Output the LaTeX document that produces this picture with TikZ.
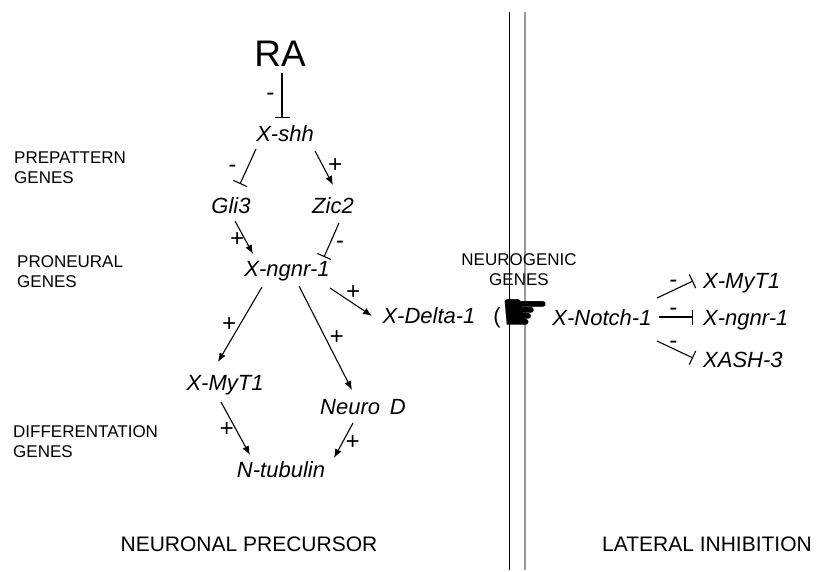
\documentclass[tikz,border=0pt]{standalone}
\usepackage{fontspec}
\setmainfont{Liberation Sans}
\newfontfamily\handfont{DejaVu Sans}
\usetikzlibrary{arrows.meta}
\tikzset{
	gene/.style={font=\itshape\fontsize{22}{26}\selectfont, inner sep=0pt, anchor=base},
	rgene/.style={gene, anchor=base west},
	lbl/.style={font=\itshape\fontsize{24}{24}\selectfont, inner sep=0pt, text height=14pt, text depth=0pt},
	cat/.style={font=\fontsize{17}{20}\selectfont, inner sep=0pt, align=left, anchor=north west},
	title/.style={font=\fontsize{21}{24}\selectfont, inner sep=0pt, anchor=base},
	act/.style={line width=1.1pt, -{Latex[length=9pt,width=7pt]}},
	inh/.style={line width=1.1pt, -{Bar[width=15pt,line width=1.1pt]}}
}
\begin{document}
\begin{tikzpicture}[x=1pt,y=-1pt]
	\useasboundingbox (0,0) rectangle (829,572);
	\draw[line width=1pt] (509,12) -- (509,570);
	\draw[line width=1.3pt, gray!80] (525,12) -- (525,570);

	\node[font=\fontsize{37}{40}\selectfont, inner sep=0pt, anchor=base] (ra) at (280,67) {RA};
	\node[gene] (xshh) at (285,142) {X-shh};
	\node[gene] (gli3) at (231,213) {Gli3};
	\node[gene] (zic2) at (333,213) {Zic2};
	\node[gene] (ngnr) at (287,276) {X-ngnr-1};
	\node[gene] (delta) at (429,323) {X-Delta-1};
	\node[gene] (myt) at (225,390) {X-MyT1};
	\node[gene] (neurod) at (363,414) {Neuro\, D};
	\node[gene] (ntub) at (281,477) {N-tubulin};
	\node[gene] (notch) at (602,325) {X-Notch-1};
	\node[rgene] (rmyt) at (703,288) {X-MyT1};
	\node[rgene] (rngnr) at (703,325) {X-ngnr-1};
	\node[rgene] (rash) at (703,367) {XASH-3};

	\node[font=\fontsize{22}{22}\selectfont, inner sep=0pt] (paren) at (497,318) {(};
	\node[font=\handfont\fontsize{56}{56}\selectfont, inner sep=0pt] (hand) at (526,316) {☛};

	\node[cat] (prepat) at (14,152) {PREPATTERN\\GENES};
	\node[cat] (proneur) at (17,255) {PRONEURAL\\GENES};
	\node[cat] (differ) at (13,425) {DIFFERENTATION\\GENES};
	\node[cat, align=center, anchor=north] (neurog) at (519,253) {NEUROGENIC\\GENES};
	\node[title] (precur) at (249,551) {NEURONAL PRECURSOR};
	\node[title] (latinh) at (707,551) {LATERAL INHIBITION};

	\draw[inh] ([shift={(2,6)}]ra.base) -- node[lbl, shift={(-12,-2)}] {-} ([shift={(-3,-24)}]xshh.base);
	\draw[inh] ([shift={(-29,7)}]xshh.base) -- node[lbl, shift={(-16,-1)}] {-} ([shift={(9,-29)}]gli3.base);
	\draw[act] ([shift={(30,9)}]xshh.base) -- node[lbl, shift={(11,-2)}] {+} ([shift={(0,-28)}]zic2.base);
	\draw[act] ([shift={(4,8)}]gli3.base) -- node[lbl, shift={(-7,2)}] {+} ([shift={(-34,-22)}]ngnr.base);
	\draw[inh] ([shift={(6,10)}]zic2.base) -- node[lbl, shift={(8,1)}] {-} ([shift={(37,-19)}]ngnr.base);
	\draw[act] ([shift={(43,12)}]ngnr.base) -- node[lbl, shift={(2,-10)}] {+} ([shift={(-57,-7)}]delta.base);
	\draw[act] ([shift={(-25,11)}]ngnr.base) -- node[lbl, shift={(-11,0)}] {+} ([shift={(-7,-28)}]myt.base);
	\draw[act] ([shift={(12,10)}]ngnr.base) -- node[lbl, shift={(11,-1)}] {+} ([shift={(-11,-24)}]neurod.base);
	\draw[act] ([shift={(-4,12)}]myt.base) -- node[lbl, shift={(-9,1)}] {+} ([shift={(-31,-22)}]ntub.base);
	\draw[act] ([shift={(-10,9)}]neurod.base) -- node[lbl, shift={(9,2)}] {+} ([shift={(53,-19)}]ntub.base);

	\draw[inh] ([shift={(55,-27)}]notch.base) -- node[lbl, shift={(-2,-9)}] {-} ([shift={(-10,-7)}]rmyt.base west);
	\draw[inh] ([shift={(57,-8)}]notch.base) -- node[lbl, shift={(-3,-9)}] {-} ([shift={(-10,-8)}]rngnr.base west);
	\draw[inh] ([shift={(55,16)}]notch.base) -- node[lbl, shift={(-2,-8)}] {-} ([shift={(-10,-9)}]rash.base west);
\end{tikzpicture}
\end{document}
